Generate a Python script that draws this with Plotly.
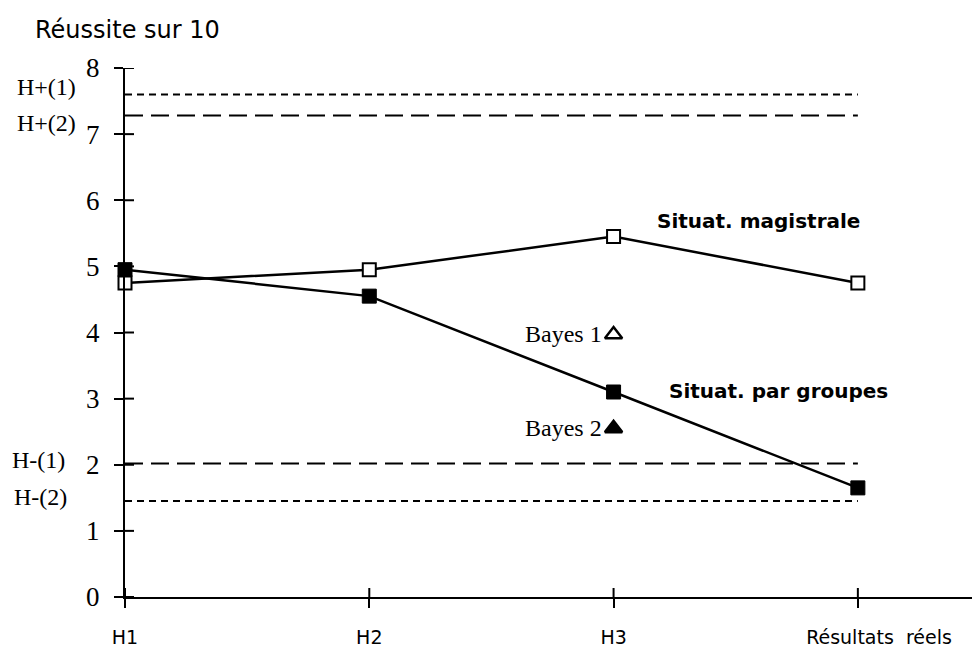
import plotly.graph_objects as go

categories = [0, 1, 2, 3]
cat_labels = ["H1", "H2", "H3", "\u00a0" * 7 + "Résultats\u00a0\u00a0réels"]
magistrale = [4.75, 4.95, 5.45, 4.75]
groupes = [4.95, 4.55, 3.1, 1.65]
bayes_x = [2, 2]
bayes_y = [3.97, 2.55]
bayes_names = ["Bayes 1", "Bayes 2"]
ref_names = ["H+(1)", "H+(2)", "H-(1)", "H-(2)"]
ref_values = [7.6, 7.28, 2.02, 1.45]
ref_dash = ["7px,5px", "18px,8px", "18px,8px", "7px,5px"]
y_ticks = [0, 1, 2, 3, 4, 5, 6, 7, 8]
x_range = [0, 3.5]
y_range = [0, 8]

# the page body has an 8px margin; the figure is sized / offset to compensate
OFF = 8
W, H = 980 - OFF, 648 - OFF
L, T, B = 125 - OFF, 68 - OFF, 51
PW, PH = W - L, H - T - B
TICK = 9

fig = go.Figure()

for name, val, dash in zip(ref_names, ref_values, ref_dash):
    fig.add_trace(go.Scatter(x=[categories[0], categories[-1]], y=[val, val], mode="lines",
                             line=dict(color="black", width=2, dash=dash),
                             hoverinfo="skip", showlegend=False))

fig.add_trace(go.Scatter(x=categories, y=groupes, mode="lines+markers",
                         line=dict(color="black", width=2.5),
                         marker=dict(symbol="square", size=14, color="black",
                                     line=dict(color="black", width=1)),
                         cliponaxis=False, showlegend=False, name="Situat. par groupes"))
fig.add_trace(go.Scatter(x=categories, y=magistrale, mode="lines+markers",
                         line=dict(color="black", width=2.5),
                         marker=dict(symbol="square", size=13, color="white",
                                     line=dict(color="black", width=2)),
                         cliponaxis=False, showlegend=False, name="Situat. magistrale"))
fig.add_trace(go.Scatter(x=bayes_x, y=bayes_y, mode="markers",
                         marker=dict(symbol=["triangle-up-open", "triangle-up"], size=15,
                                     color="black", line=dict(color="black", width=2.5)),
                         cliponaxis=False, showlegend=False))

serif = "Liberation Serif"
sans = "DejaVu Sans"

fig.update_layout(
    width=W, height=H,
    margin=dict(l=L, r=0, t=T, b=B),
    plot_bgcolor="white", paper_bgcolor="white",
    font=dict(family=serif, color="black"),
    xaxis=dict(range=x_range, tickvals=categories, ticktext=cat_labels, automargin=False,
               showgrid=False, zeroline=False, showline=True, linecolor="black", linewidth=2,
               ticks="outside", ticklen=TICK, tickwidth=2, tickcolor="black",
               ticklabelstandoff=13, tickfont=dict(family=sans, size=19, color="black")),
    yaxis=dict(range=y_range, tickvals=y_ticks, automargin=False,
               showgrid=False, zeroline=False, showline=True, linecolor="black", linewidth=2,
               ticks="outside", ticklen=TICK, tickwidth=2, tickcolor="black",
               ticklabelstandoff=9, tickfont=dict(family=serif, size=27, color="black")),
)

# inward half of the crossing tick marks
shapes = []
for v in y_ticks:
    shapes.append(dict(type="line", xref="paper", yref="y", x0=0, x1=TICK / PW, y0=v, y1=v,
                       line=dict(color="black", width=2)))
for v in categories:
    shapes.append(dict(type="line", xref="x", yref="paper", x0=v, x1=v, y0=0, y1=TICK / PH,
                       line=dict(color="black", width=2)))
fig.update_layout(shapes=shapes)

annotations = [
    dict(text="Réussite sur 10", xref="paper", yref="paper", x=(33 - 125) / PW,
         y=(597 - 30) / PH, xanchor="left", yanchor="middle",
         font=dict(family=sans, size=24, color="black")),
    dict(text="Situat. magistrale", xref="x", yref="y", x=2.168, y=5.69,
         xanchor="left", yanchor="middle", font=dict(family=sans, size=20, color="black", weight="bold")),
    dict(text="Situat. par groupes", xref="x", yref="y", x=2.217, y=3.12,
         xanchor="left", yanchor="middle", font=dict(family=sans, size=20, color="black", weight="bold")),
]
for name, yv in zip(bayes_names, bayes_y):
    annotations.append(dict(text=name, xref="x", yref="y", x=1.962, y=yv,
                            xanchor="right", yanchor="middle",
                            font=dict(family=serif, size=24, color="black")))
ref_label_pos = [(15, 7.72), (15, 7.17), (10, 2.07), (12, 1.51)]
for name, (px, yv) in zip(ref_names, ref_label_pos):
    annotations.append(dict(text=name, xref="paper", yref="y", x=(px - 125) / PW, y=yv,
                            xanchor="left", yanchor="middle",
                            font=dict(family=serif, size=24, color="black")))
for a in annotations:
    a["showarrow"] = False
fig.update_layout(annotations=annotations)

fig.write_html("out.html")
